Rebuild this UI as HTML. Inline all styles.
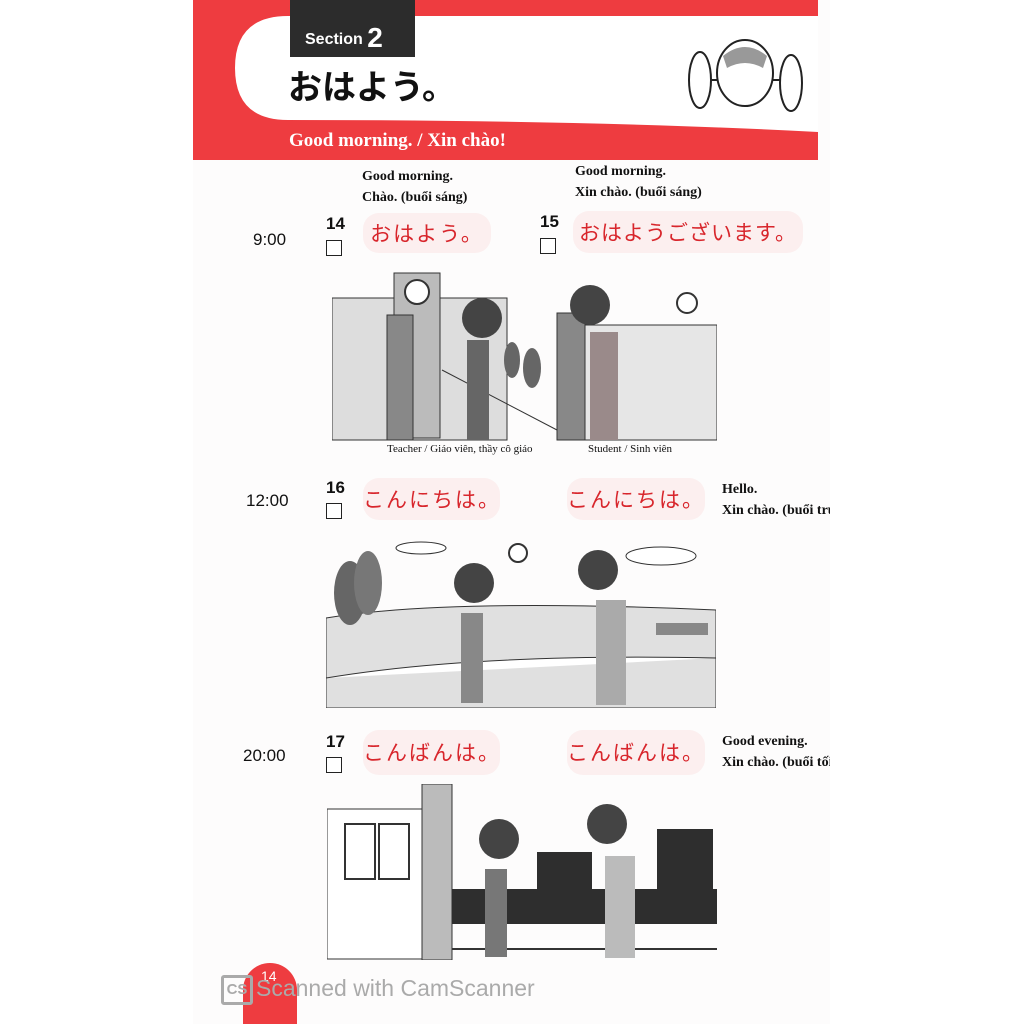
<!DOCTYPE html>
<html><head><meta charset="utf-8"><style>
body{margin:0;width:1024px;height:1024px;background:#fff;position:relative;overflow:hidden;font-family:"Liberation Sans","Noto Sans CJK JP",sans-serif}
.a{position:absolute;white-space:nowrap}
.page{position:absolute;left:193px;top:0;width:637px;height:1024px;background:#fdfcfc;overflow:hidden}
.ser{font-family:"Liberation Serif","Noto Serif CJK SC",serif;font-weight:bold;font-size:14px;color:#111;line-height:21px}
.pill{position:absolute;background:#fcefef;border-radius:16px;color:#d8262c;font-family:"Noto Sans CJK JP",sans-serif;font-size:21px;letter-spacing:2px;text-align:center;white-space:nowrap}
.num{font-size:17px;font-weight:bold;color:#111}
.cb{position:absolute;width:14px;height:14px;border:1.5px solid #222;background:#fff}
.time{font-size:17px;color:#111}
</style></head><body>
<div class="page">
 <svg class="a" style="left:0;top:0" width="637" height="162">
  <rect x="0" y="0" width="625" height="160" fill="#ee3c40"/>
  <path d="M95 16 L625 16 L625 132 Q400 120 95 120 Q42 120 42 68 Q42 16 95 16 Z" fill="#fff"/>
  <rect x="97" y="0" width="125" height="57" fill="#2c2c2c"/>
 </svg>
 <div class="a" style="left:112px;top:22px;color:#fff;font-weight:bold;font-size:16px">Section <span style="font-size:28px;vertical-align:-3px">2</span></div>
 <div class="a" style="left:95px;top:60px;font-family:'Noto Sans CJK JP',sans-serif;font-weight:bold;font-size:34px;color:#111">おはよう。</div>
 <div class="a" style="left:96px;top:130px;color:#fff;font-family:'Liberation Serif',serif;font-weight:bold;font-size:19px">Good morning. / Xin chào!</div>
 <svg class="a" style="left:485px;top:28px" width="135" height="85">
  <ellipse cx="22" cy="52" rx="11" ry="28" fill="#fff" stroke="#222" stroke-width="2"/>
  <ellipse cx="113" cy="55" rx="11" ry="28" fill="#fff" stroke="#222" stroke-width="2"/>
  <line x1="33" y1="52" x2="102" y2="52" stroke="#222" stroke-width="2"/>
  <ellipse cx="67" cy="45" rx="28" ry="33" fill="#fff" stroke="#222" stroke-width="2"/>
  <path d="M45 28 Q67 10 89 28 L85 40 Q67 30 49 40Z" fill="#999"/>
 </svg>

 <div class="a ser" style="left:169px;top:166px">Good morning.<br>Chào. (buổi sáng)</div>
 <div class="a ser" style="left:382px;top:161px">Good morning.<br>Xin chào. (buổi sáng)</div>

 <div class="a time" style="left:60px;top:230px">9:00</div>
 <div class="a num" style="left:133px;top:214px">14</div><div class="cb" style="left:133px;top:240px"></div>
 <div class="pill" style="left:170px;top:213px;width:128px;height:40px;line-height:40px">おはよう。</div>
 <div class="a num" style="left:347px;top:212px">15</div><div class="cb" style="left:347px;top:238px"></div>
 <div class="pill" style="left:380px;top:211px;width:230px;height:42px;line-height:42px;letter-spacing:1px">おはようございます。</div>
 <svg class="a" style="left:139px;top:270px" width="385" height="172">
  <rect x="0" y="28" width="175" height="142" fill="#ddd" stroke="#333"/>
  <rect x="62" y="3" width="46" height="165" fill="#bbb" stroke="#333"/>
  <circle cx="85" cy="22" r="12" fill="#fff" stroke="#333" stroke-width="2"/>
  <rect x="55" y="45" width="26" height="125" fill="#888" stroke="#333"/>
  <rect x="225" y="43" width="28" height="127" fill="#888" stroke="#333"/>
  <rect x="253" y="55" width="132" height="115" fill="#e6e6e6" stroke="#333"/>
  <path d="M110 100 L225 160" stroke="#333" fill="none"/>
  <circle cx="150" cy="48" r="20" fill="#444"/><rect x="135" y="70" width="22" height="100" fill="#666"/>
  <circle cx="258" cy="35" r="20" fill="#444"/><rect x="258" y="62" width="28" height="108" fill="#9a8a8a"/>
  <ellipse cx="180" cy="90" rx="8" ry="18" fill="#666"/><ellipse cx="200" cy="98" rx="9" ry="20" fill="#666"/>
  <circle cx="355" cy="33" r="10" fill="#fff" stroke="#333" stroke-width="2"/>
 </svg>
 <div class="a" style="left:194px;top:443px;font-family:'Liberation Serif',serif;font-size:11px;color:#111">Teacher / Giáo viên, thầy cô giáo</div>
 <div class="a" style="left:395px;top:443px;font-family:'Liberation Serif',serif;font-size:11px;color:#111">Student / Sinh viên</div>

 <div class="a time" style="left:53px;top:491px">12:00</div>
 <div class="a num" style="left:133px;top:478px">16</div><div class="cb" style="left:133px;top:503px"></div>
 <div class="pill" style="left:170px;top:478px;width:137px;height:42px;line-height:42px">こんにちは。</div>
 <div class="pill" style="left:374px;top:478px;width:138px;height:42px;line-height:42px">こんにちは。</div>
 <div class="a ser" style="left:529px;top:479px">Hello.<br>Xin chào. (buổi trưa)</div>
 <svg class="a" style="left:133px;top:538px" width="390" height="170">
  <path d="M0 80 Q120 60 390 72 L390 170 L0 170 Z" fill="#e0e0e0" stroke="#333"/>
  <path d="M0 140 Q150 115 390 120" stroke="#333" fill="#fff"/>
  <ellipse cx="24" cy="55" rx="16" ry="32" fill="#666"/><ellipse cx="42" cy="45" rx="14" ry="32" fill="#777"/>
  <circle cx="148" cy="45" r="20" fill="#444"/><rect x="135" y="75" width="22" height="90" fill="#888"/>
  <circle cx="272" cy="32" r="20" fill="#444"/><rect x="270" y="62" width="30" height="105" fill="#aaa"/>
  <rect x="330" y="85" width="52" height="12" fill="#888"/>
  <ellipse cx="95" cy="10" rx="25" ry="6" fill="#fff" stroke="#333"/><ellipse cx="335" cy="18" rx="35" ry="9" fill="#fff" stroke="#333"/>
  <circle cx="192" cy="15" r="9" fill="#fff" stroke="#333" stroke-width="2"/>
 </svg>

 <div class="a time" style="left:50px;top:746px">20:00</div>
 <div class="a num" style="left:133px;top:732px">17</div><div class="cb" style="left:133px;top:757px"></div>
 <div class="pill" style="left:170px;top:730px;width:137px;height:45px;line-height:45px">こんばんは。</div>
 <div class="pill" style="left:374px;top:730px;width:138px;height:45px;line-height:45px">こんばんは。</div>
 <div class="a ser" style="left:529px;top:731px">Good evening.<br>Xin chào. (buổi tối)</div>
 <svg class="a" style="left:134px;top:784px" width="390" height="176">
  <rect x="0" y="25" width="100" height="150" fill="#fff" stroke="#333"/>
  <rect x="18" y="40" width="30" height="55" fill="#fff" stroke="#333" stroke-width="2"/><rect x="52" y="40" width="30" height="55" fill="#fff" stroke="#333" stroke-width="2"/>
  <rect x="95" y="0" width="30" height="176" fill="#bbb" stroke="#333"/>
  <rect x="125" y="105" width="265" height="35" fill="#2e2e2e"/>
  <rect x="210" y="68" width="55" height="72" fill="#2e2e2e"/><rect x="330" y="45" width="56" height="95" fill="#2e2e2e"/>
  <line x1="125" y1="165" x2="390" y2="165" stroke="#333" stroke-width="2"/>
  <circle cx="172" cy="55" r="20" fill="#444"/><rect x="158" y="85" width="22" height="88" fill="#777"/>
  <circle cx="280" cy="40" r="20" fill="#444"/><rect x="278" y="72" width="30" height="102" fill="#bbb"/>
 </svg>
 <div class="a" style="left:50px;top:963px;width:54px;height:70px;background:#ee3c40;border-radius:27px 27px 0 0"></div>
 <div class="a" style="left:68px;top:968px;color:#fff;font-size:14px">14</div>
</div>
<div class="a" style="left:221px;top:975px;width:26px;height:24px;border:3px solid #aaa;border-radius:3px;color:#aaa;font-weight:bold;font-size:15px;line-height:24px;text-align:center">CS</div>
<div class="a" style="left:256px;top:975px;font-size:23px;color:#aaa">Scanned with CamScanner</div>
</body></html>
